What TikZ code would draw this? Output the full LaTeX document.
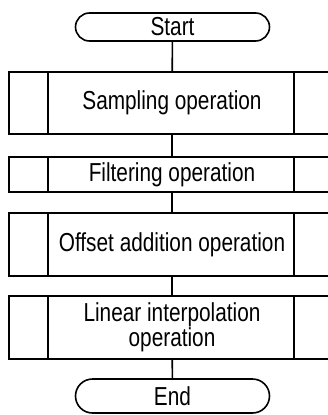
\documentclass[tikz,border=0pt]{standalone}
\usepackage{fontspec}
\setmainfont{Liberation Sans}[FakeStretch=0.8]
\usetikzlibrary{shapes.misc}
\begin{document}
\begin{tikzpicture}[x=1pt,y=-1pt, line width=1.6pt,
  lbl/.style={font=\fontsize{26}{20}\selectfont, align=center, inner sep=0pt},
  term/.style={draw, rounded rectangle, minimum width=194pt, lbl},
  proc/.style={draw, rectangle, minimum width=326pt, lbl},
  conn/.style={draw}]
\useasboundingbox (0,0) rectangle (328,415);
\node[term, minimum height=28pt] (start) at (172.5,27) {Start};
\node[proc, minimum height=62pt] (samp) at (172,103) {Sampling operation};
\node[proc, minimum height=35pt] (filt) at (172,174.5) {Filtering operation};
\node[proc, minimum height=63pt] (offs) at (172,244.5) {Offset addition operation};
\node[proc, minimum height=63pt] (lin) at (172,327.5) {Linear interpolation\\operation};
\node[term, minimum height=34pt] (end) at (172.5,396) {End};
\foreach \n in {samp,filt,offs,lin}{
  \draw ([xshift=40pt]\n.north west) -- ([xshift=40pt]\n.south west);
  \draw ([xshift=-42pt]\n.north east) -- ([xshift=-42pt]\n.south east);
}
\draw (start) -- (samp);
\draw (samp) -- (filt);
\draw (filt) -- (offs);
\draw (offs) -- (lin);
\draw (lin) -- (end);
\end{tikzpicture}
\end{document}
